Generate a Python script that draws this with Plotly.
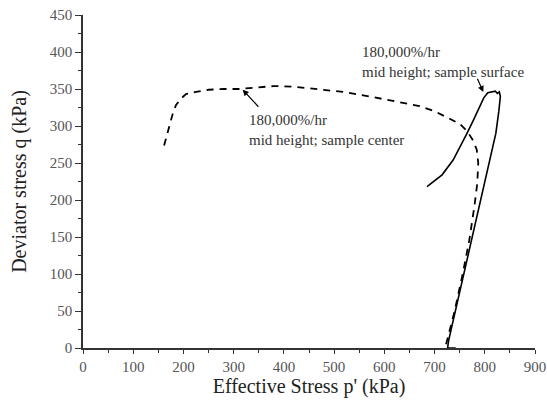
import plotly.graph_objects as go

# Sample center (dashed), path order
center_p = [723, 740, 756, 769, 779, 785, 787, 784, 777, 765, 750, 725, 700, 670, 620, 570,
            520, 470, 420, 380, 340, 310, 280, 250, 225, 205, 195, 185, 178, 170, 160]
center_q = [5, 50, 100, 145, 190, 222, 250, 268, 280, 293, 303, 312, 320, 327, 334, 340,
            346, 350, 353, 354, 352, 350, 350, 349, 346, 343, 337, 328, 315, 295, 270]

# Sample surface (solid), path order
surface_p = [742, 726, 728, 745, 762, 779, 796, 813, 822, 828, 831, 829, 825, 821, 815, 806,
             798, 790, 776, 763, 751, 737, 715, 700, 685]
surface_q = [0, 0, 10, 60, 110, 160, 210, 260, 290, 320, 340, 346, 344, 347, 346, 345,
             338, 326, 306, 288, 272, 254, 234, 226, 218]

x_ticks = [0, 100, 200, 300, 400, 500, 600, 700, 800, 900]
y_ticks = [0, 50, 100, 150, 200, 250, 300, 350, 400, 450]

FONT = "Liberation Serif"

fig = go.Figure()
fig.add_trace(go.Scatter(x=center_p, y=center_q, mode="lines",
                         line=dict(color="black", width=1.8, dash="7px,6px"),
                         showlegend=False))
fig.add_trace(go.Scatter(x=surface_p, y=surface_q, mode="lines",
                         line=dict(color="black", width=1.6),
                         showlegend=False))

# text labels
fig.add_annotation(x=551, y=413, xref="x", yref="y", showarrow=False,
                   text="180,000%/hr<br>mid height; sample surface",
                   xanchor="left", yanchor="top", align="left",
                   font=dict(family=FONT, size=15, color="#333"))
fig.add_annotation(x=326, y=322, xref="x", yref="y", showarrow=False,
                   text="180,000%/hr<br>mid height; sample center",
                   xanchor="left", yanchor="top", align="left",
                   font=dict(family=FONT, size=15, color="#333"))
# arrows
fig.add_annotation(x=797, y=346, ax=784, ay=366, xref="x", yref="y", axref="x", ayref="y",
                   text="", showarrow=True, arrowhead=2, arrowsize=1, arrowwidth=1.2,
                   arrowcolor="black")
fig.add_annotation(x=318, y=349, ax=352, ay=324, xref="x", yref="y", axref="x", ayref="y",
                   text="", showarrow=True, arrowhead=2, arrowsize=1, arrowwidth=1.2,
                   arrowcolor="black")

fig.update_layout(
    width=547, height=403,
    margin=dict(l=83, r=12, t=15, b=55, autoexpand=False),
    plot_bgcolor="white", paper_bgcolor="white",
    font=dict(family=FONT, color="#333"),
)
fig.update_xaxes(range=[0, 900], tickvals=x_ticks, showgrid=False, zeroline=False,
                 showline=True, linecolor="#333", linewidth=1.5, automargin=False,
                 ticks="outside", ticklen=4, tickwidth=1.2, tickcolor="#333",
                 minor=dict(dtick=50, ticks="outside", ticklen=3, tickcolor="#333", showgrid=False),
                 tickfont=dict(family=FONT, size=15, color="#555"),
                 title=dict(text="Effective Stress p' (kPa)", font=dict(family=FONT, size=20, color="#222"),
                            standoff=0))
fig.update_yaxes(range=[0, 450], tickvals=y_ticks, showgrid=False, zeroline=False,
                 showline=True, linecolor="#333", linewidth=1.5, automargin=False,
                 ticks="outside", ticklen=6, tickwidth=1.2, tickcolor="#333",
                 minor=dict(dtick=25, ticks="outside", ticklen=3, tickcolor="#333", showgrid=False),
                 tickfont=dict(family=FONT, size=15, color="#555"),
                 title=dict(text="Deviator stress q (kPa)", font=dict(family=FONT, size=20, color="#222"),
                            standoff=18))

fig.write_html("out.html")
